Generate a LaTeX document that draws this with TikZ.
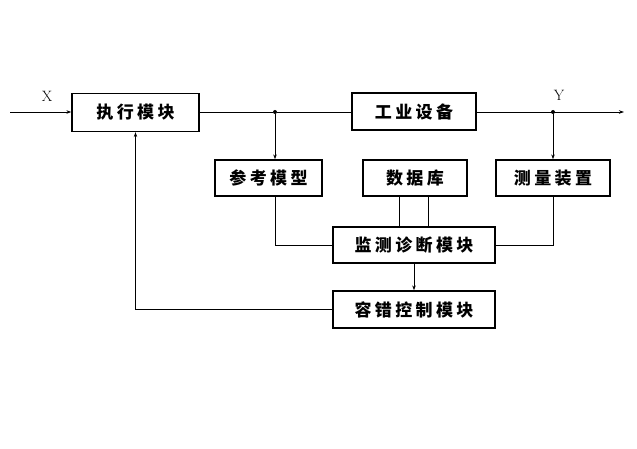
\documentclass[tikz,border=0pt]{standalone}
\usepackage{fontspec}
\newfontfamily\cjk[LetterSpace=20]{Noto Sans CJK SC}
\usetikzlibrary{arrows.meta}
\tikzset{
  blk/.style={draw, line width=1.3pt, inner sep=0pt, font=\cjk\bfseries\fontsize{17}{17}\selectfont},
  conn/.style={line width=0.8pt},
  arr/.style={conn, -{Stealth[length=5pt,width=3.5pt]}},
  dot/.style={circle, fill, inner sep=0pt, minimum size=4pt},
  lbl/.style={font=\fontsize{15}{15}\selectfont}
}
\begin{document}
\begin{tikzpicture}[x=1pt,y=-1pt]
\useasboundingbox (0,0) rectangle (637,449);
\node[blk, minimum width=127pt, minimum height=38pt] (exec) at (135.5,112.5) {执行模块};
\node[blk, minimum width=124pt, minimum height=37pt] (plant) at (414,111.5) {工业设备};
\node[blk, minimum width=107pt, minimum height=36pt] (ref) at (268.5,178) {参考模型};
\node[blk, minimum width=104pt, minimum height=36pt] (db) at (415,178) {数据库};
\node[blk, minimum width=114pt, minimum height=36pt] (meas) at (553,178) {测量装置};
\node[blk, minimum width=162pt, minimum height=36pt] (mon) at (414,245) {监测诊断模块};
\node[blk, minimum width=162pt, minimum height=37pt] (ftc) at (414,309.5) {容错控制模块};
\coordinate (in) at (10,112);
\coordinate (out) at (624,112);
\node[dot] (j1) at (275,112) {};
\node[dot] (j2) at (553,112) {};
\node[lbl] (X) at (47,96) {X};
\node[lbl] (Y) at (559,95) {Y};
\draw[arr] (in) -- (exec.west |- in);
\draw[conn] (exec.east |- j1) -- (j1) -- (plant.west |- j1);
\draw[arr] (plant.east |- j2) -- (out);
\draw[arr] (j1) -- (j1 |- ref.north);
\draw[arr] (j2) -- (j2 |- meas.north);
\draw[conn] (j1 |- ref.south) |- (mon.west);
\draw[conn] (j2 |- meas.south) |- (mon.east);
\draw[conn] ([xshift=-16pt]db.south) -- ([xshift=-16pt]db.south |- mon.north);
\draw[conn] ([xshift=13pt]db.south) -- ([xshift=13pt]db.south |- mon.north);
\draw[arr] (mon.south) -- (ftc.north);
\draw[arr] (ftc.west) -| (exec.south);
\end{tikzpicture}
\end{document}
